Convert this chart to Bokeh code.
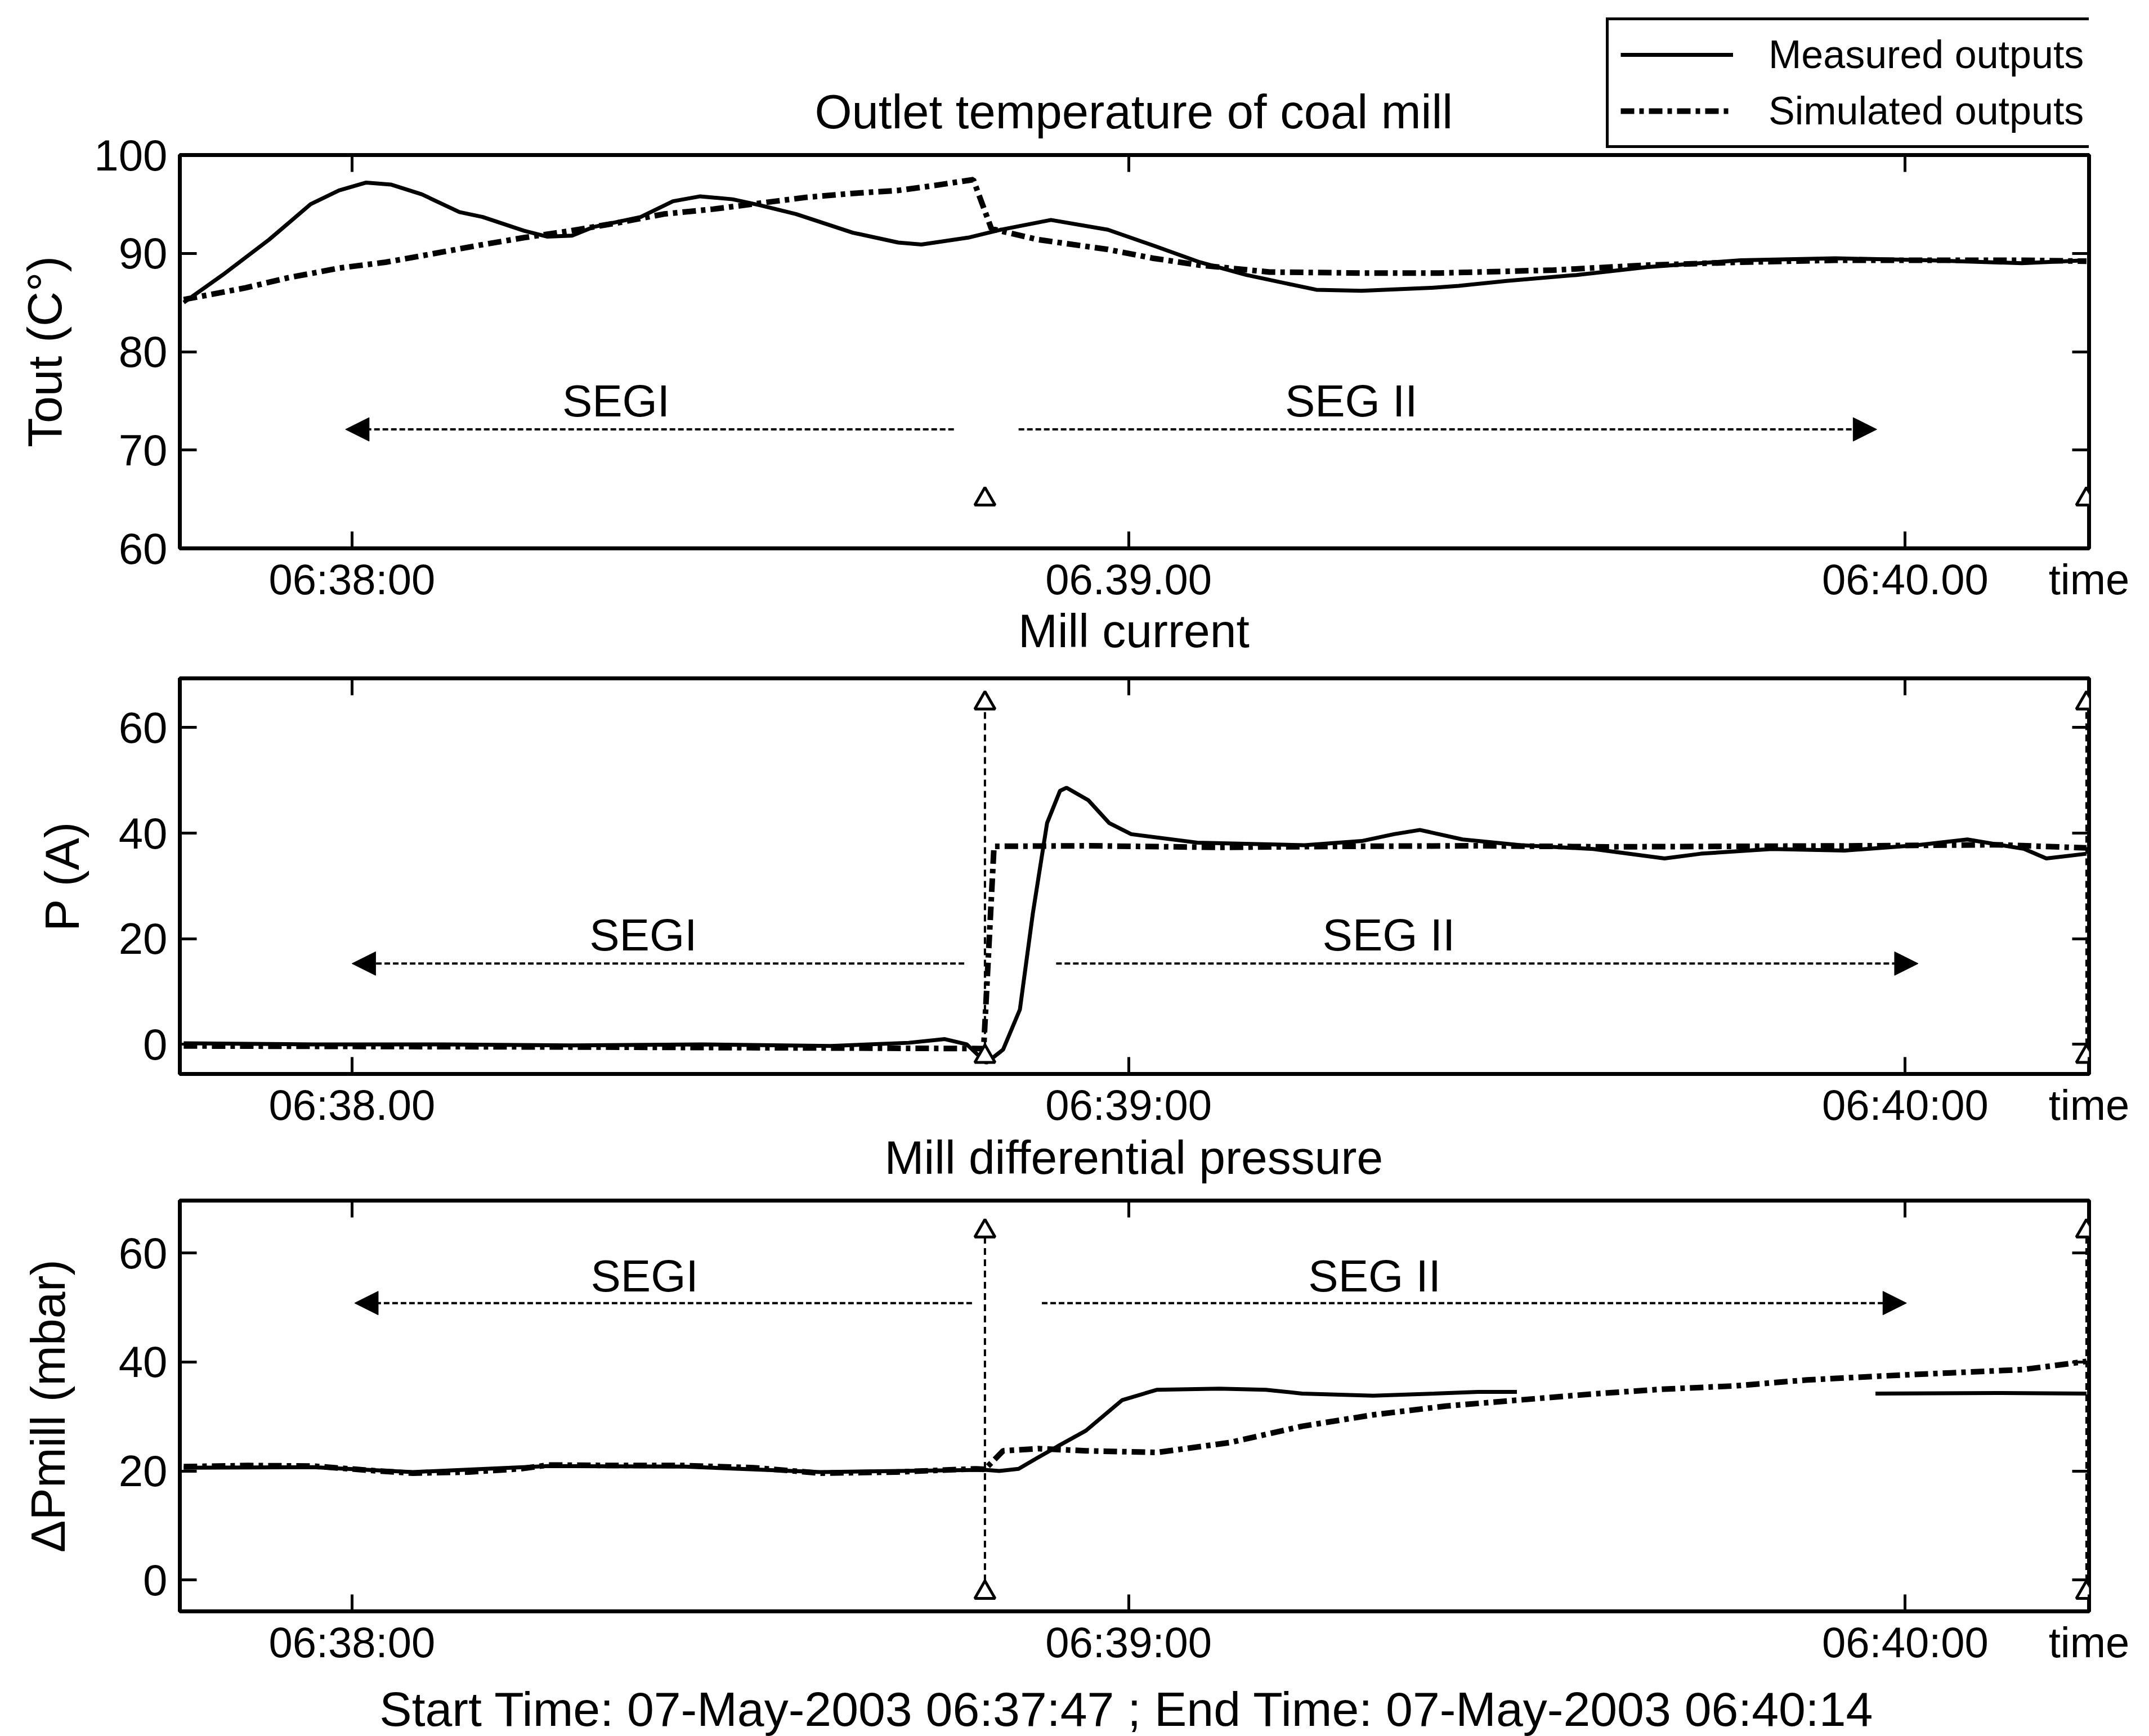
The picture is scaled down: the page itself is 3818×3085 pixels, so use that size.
from bokeh.plotting import figure
from bokeh.layouts import column
from bokeh.models import (FixedTicker, LinearAxis, Range1d, Label, Legend, LegendItem,
                          Arrow, NormalHead)
from bokeh.embed import file_html
from bokeh.resources import INLINE

FONT = "Liberation Sans"
NAN = float("nan")

# ---------------- data (time in seconds after 06:37:47) ----------------
T_END = 147.2
X_TICKS = [13, 73, 133, T_END]
X_LABELS_1 = ["06:38:00", "06.39.00", "06:40.00", "time"]
X_LABELS_2 = ["06:38.00", "06:39:00", "06:40:00", "time"]
X_LABELS_3 = ["06:38:00", "06:39:00", "06:40:00", "time"]

# Outlet temperature of coal mill
tout_meas_t = [0, 3, 6.6, 9.8, 12, 14.1, 16, 18.4, 21.3, 23.1, 26.3, 28.1, 30, 31.7, 35.3, 37.8,
               39.9, 42.4, 44.5, 47.3, 51.7, 55.2, 57, 60.6, 63.1, 67, 71.4, 74.9, 78.5, 82.1,
               87.5, 91, 96.4, 98.5, 102.2, 107.6, 113, 120.3, 127.6, 134.8, 142, 147]
tout_meas_y = [85.0, 87.8, 91.4, 95.0, 96.4, 97.2, 97.0, 96.0, 94.2, 93.7, 92.3, 91.7, 91.8, 92.7,
               93.7, 95.3, 95.8, 95.5, 94.9, 94.0, 92.1, 91.1, 90.9, 91.6, 92.4, 93.4, 92.4, 90.8,
               89.1, 87.8, 86.3, 86.2, 86.5, 86.7, 87.2, 87.8, 88.6, 89.3, 89.5, 89.3, 89.0, 89.3]
tout_sim_t = [0, 4.8, 8, 12, 15.6, 19, 22.7, 26.3, 29.9, 33.5, 37.1, 40.9, 44.5, 48.1, 51.7, 55.2,
              58, 61.0, 62.4, 66, 71.4, 74.9, 78.5, 83.9, 91.1, 97, 105.8, 113, 120.3, 127.6,
              134.8, 142, 147]
tout_sim_y = [85.3, 86.5, 87.5, 88.5, 89.1, 89.9, 90.8, 91.6, 92.3, 93.1, 94.0, 94.5, 95.1, 95.7,
              96.1, 96.4, 96.9, 97.5, 92.5, 91.4, 90.4, 89.5, 88.8, 88.1, 88.0, 88.0, 88.3, 88.8,
              89.1, 89.3, 89.3, 89.3, 89.2]

# Mill current
cur_meas_t = [0, 10, 20, 30, 40, 50, 56, 58.8, 60.5, 62.0, 63.3, 64.6, 65.6, 66.7, 67.7, 68.2,
              69.9, 71.5, 73.2, 78.3, 86.6, 91.0, 93.5, 95.5, 98.8, 103.3, 108.9, 114.4, 117.2,
              122.7, 128.3, 133.9, 137.8, 142.2, 143.9, 147]
cur_meas_y = [0.2, 0.0, 0.0, -0.2, 0.0, -0.3, 0.3, 1.0, 0.0, -3.5, -1.0, 6.6, 24.8, 41.9, 48.0,
              48.6, 46.2, 41.9, 39.8, 38.2, 37.7, 38.5, 39.8, 40.6, 38.8, 37.7, 37.0, 35.2, 36.1,
              37.0, 36.7, 37.7, 38.8, 37.0, 35.2, 36.1]
cur_sim_t = [0, 30, 61.8, 62.6, 70, 80, 90, 100, 110, 120, 130, 140, 147]
cur_sim_y = [-0.3, -0.5, -0.8, 37.5, 37.6, 37.3, 37.5, 37.6, 37.4, 37.5, 37.6, 37.8, 37.2]

# Mill differential pressure
dp_meas_t = [0, 10, 17.7, 28.2, 38.7, 49.2, 61.9, 63, 64.5, 65.8, 67.5, 69.7, 72.5, 75.2, 80,
             83.6, 86.4, 91.9, 96.6, 100, 103, 103.1, 130.7, 140, 147]
dp_meas_y = [20.6, 20.7, 19.8, 20.9, 20.8, 19.8, 20.2, 20.0, 20.4, 22.2, 24.5, 27.4, 33.0, 34.9,
             35.1, 34.9, 34.2, 33.8, 34.2, 34.5, 34.5, NAN, 34.2, 34.3, 34.2]
dp_sim_t = [0, 5, 10, 15, 17.7, 22, 26, 28.2, 33, 38.7, 44, 49.2, 55, 61.2, 61.9, 63.3, 66,
            69.7, 75.2, 80.8, 86.4, 91.9, 97.5, 103.1, 108.7, 114.2, 119.8, 125.4, 131.0,
            136.5, 142.1, 147]
dp_sim_y = [20.8, 21.0, 20.9, 20.0, 19.6, 19.8, 20.4, 21.1, 21.0, 21.0, 20.6, 19.6, 19.8, 20.4,
            20.3, 23.7, 24.1, 23.7, 23.4, 25.2, 28.2, 30.3, 31.9, 33.0, 34.1, 35.0, 35.6, 36.7,
            37.4, 38.0, 38.6, 40.1]

# segment boundaries (time) and marker levels per panel
SEG_T = [61.9, 147]
SEG_MARK_1 = [65, 65]
SEG_TOP_2, SEG_BOT_2 = [64.6, 64.6], [-2.3, -2.3]
SEG_TOP_3, SEG_BOT_3 = [64.0, 64.0], [-2.3, -2.3]

# SEG arrows: (left head t, left end t, right start t, right head t, level)
SEG_ARROW_1 = (12.5, 59.5, 64.5, 130.8, 72.1)
SEG_ARROW_2 = (13.0, 60.3, 67.4, 134.0, 15.3)
SEG_ARROW_3 = (13.2, 60.9, 66.3, 133.1, 50.8)
SEG_TEXT_1 = (33.4, 90.2, 75.0)
SEG_TEXT_2 = (35.5, 93.1, 20.7)
SEG_TEXT_3 = (35.6, 92.0, 55.8)

TITLE_1 = "Outlet temperature of coal mill"
TITLE_2 = "Mill current"
TITLE_3 = "Mill differential pressure"
FOOTER = "Start Time: 07-May-2003 06:37:47 ;  End Time: 07-May-2003 06:40:14"
LEGEND_LABELS = ["Measured outputs", "Simulated outputs"]

MEAS_STYLE = dict(line_color="black", line_width=7)
SIM_STYLE = dict(line_color="black", line_width=10, line_dash="24 9 8 9")


def make_fig(height, left, right, top, bottom, yr, yticks, xlabels, ylabel, lab_standoff):
    p = figure(width=3818, height=height, x_range=Range1d(-0.3, T_END), y_range=Range1d(*yr),
               output_backend="svg", toolbar_location=None, title=None,
               min_border_left=left, min_border_right=right,
               min_border_top=top, min_border_bottom=bottom)
    p.grid.visible = False
    p.background_fill_color = "white"
    p.border_fill_color = "white"
    p.outline_line_color = "black"
    p.outline_line_width = 7
    for ax in (p.xaxis[0], p.yaxis[0]):
        ax.axis_line_color = None
        ax.minor_tick_line_color = None
        ax.major_tick_in = 30
        ax.major_tick_out = 0
        ax.major_tick_line_width = 5
        ax.major_label_text_font = FONT
        ax.major_label_text_color = "black"
    p.xaxis.ticker = FixedTicker(ticks=X_TICKS)
    p.xaxis.major_label_overrides = dict(zip(X_TICKS, xlabels))
    p.xaxis.major_label_text_font_size = "76px"
    p.xaxis.major_label_standoff = 12
    p.yaxis.ticker = FixedTicker(ticks=yticks)
    p.yaxis.major_label_text_font_size = "78px"
    p.yaxis.major_label_standoff = 22
    p.yaxis.axis_label = ylabel
    p.yaxis.axis_label_text_font = FONT
    p.yaxis.axis_label_text_font_size = "86px"
    p.yaxis.axis_label_text_font_style = "normal"
    p.yaxis.axis_label_text_color = "black"
    p.yaxis.axis_label_standoff = lab_standoff
    top_ax = LinearAxis(ticker=FixedTicker(ticks=X_TICKS),
                        major_label_overrides={t: "" for t in X_TICKS})
    right_ax = LinearAxis(ticker=FixedTicker(ticks=yticks),
                          major_label_overrides={t: "" for t in yticks})
    for ax in (top_ax, right_ax):
        ax.axis_line_color = None
        ax.minor_tick_line_color = None
        ax.major_tick_in = 30
        ax.major_tick_out = 0
        ax.major_tick_line_width = 5
        ax.major_label_text_font_size = "1px"
        ax.major_label_standoff = 0
    p.add_layout(top_ax, "above")
    p.add_layout(right_ax, "right")
    return p


def text_strip(height, left, right, text, ty, size):
    """A strip without axes that carries one centred text line (titles, footer)."""
    f = figure(width=3818, height=height, x_range=Range1d(-0.3, T_END), y_range=Range1d(0, 1),
               output_backend="svg", toolbar_location=None, title=None,
               x_axis_location=None, y_axis_location=None,
               min_border_left=left, min_border_right=right, min_border_top=0,
               min_border_bottom=0)
    f.grid.visible = False
    f.outline_line_color = None
    f.add_layout(Label(x=73.4, y=ty, text=text, text_font=FONT, text_font_size=size,
                       text_align="center", text_baseline="middle", text_color="black"))
    return f


def add_series(p, mt, my, st, sy):
    rm = p.line(mt, my, **MEAS_STYLE)
    rs = p.line(st, sy, **SIM_STYLE)
    return rm, rs


def add_seg(p, arrow, text, ybot=None, ytop=None, marks=None):
    lh, le, rs, rh, lvl = arrow
    for xs, xe in ((le, lh), (rs, rh)):
        p.add_layout(Arrow(x_start=xs, y_start=lvl, x_end=xe, y_end=lvl, line_width=4,
                           line_dash="10 5",
                           end=NormalHead(size=42, fill_color="black", line_color="black")))
    t1, t2, ty = text
    for tx, s in ((t1, "SEGI"), (t2, "SEG II")):
        p.add_layout(Label(x=tx, y=ty, text=s, text_font=FONT, text_font_size="80px",
                           text_align="center", text_baseline="middle", text_color="black"))
    tri = dict(marker="triangle", size=36, fill_color="white", line_color="black",
               line_width=5)
    if ybot is not None:
        p.segment(x0=SEG_T, y0=ybot, x1=SEG_T, y1=ytop, line_color="black", line_width=4,
                  line_dash="12 8")
        p.scatter(SEG_T, ytop, **tri)
        p.scatter(SEG_T, ybot, **tri)
    if marks is not None:
        p.scatter(SEG_T, marks, **tri)


# ---------------- header: title of panel 1 and legend ----------------
head = text_strip(268, 303, 107, TITLE_1, 0.261, "85px")
# legend proxies (same series, outside this strip's visible range)
lm = head.line(tout_meas_t, tout_meas_y, **MEAS_STYLE)
ls = head.line(tout_sim_t, tout_sim_y, **SIM_STYLE)
legend = Legend(items=[LegendItem(label=LEGEND_LABELS[0], renderers=[lm]),
                       LegendItem(label=LEGEND_LABELS[1], renderers=[ls])],
                location=(2534, 5), label_text_font=FONT, label_text_font_size="70px",
                label_text_color="black",
                glyph_width=200, glyph_height=40, label_standoff=63, label_height=80,
                padding=21, spacing=20, margin=0, border_line_color="black",
                border_line_alpha=1.0, border_line_width=5,
                background_fill_color="white", background_fill_alpha=1)
head.add_layout(legend)

# ---------------- panel 1 (pulled up under the header's transparent edge) ----------------
p1 = make_fig(846, 303, 107, 47, 97, (60, 100), [60, 70, 80, 90, 100], X_LABELS_1,
              "Tout (C°)", 37)
p1.border_fill_color = None
p1.margin = (-40, 0, 0, 0)
add_series(p1, tout_meas_t, tout_meas_y, tout_sim_t, tout_sim_y)
add_seg(p1, SEG_ARROW_1, SEG_TEXT_1, marks=SEG_MARK_1)

# ---------------- panel 2 ----------------
t2 = text_strip(96, 312, 102, TITLE_2, 0.52, "84px")
p2 = make_fig(838, 312, 102, 35, 97, (-5.6, 69.3), [0, 20, 40, 60], X_LABELS_2,
              "P (A)", 50)
add_series(p2, cur_meas_t, cur_meas_y, cur_sim_t, cur_sim_y)
add_seg(p2, SEG_ARROW_2, SEG_TEXT_2, ybot=SEG_BOT_2, ytop=SEG_TOP_2)

# ---------------- panel 3 ----------------
t3 = text_strip(96, 319, 100, TITLE_3, 0.5, "84px")
p3 = make_fig(859, 319, 100, 29, 97, (-5.75, 69.6), [0, 20, 40, 60], X_LABELS_3,
              "ΔPmill (mbar)", 75)
add_series(p3, dp_meas_t, dp_meas_y, dp_sim_t, dp_sim_y)
add_seg(p3, SEG_ARROW_3, SEG_TEXT_3, ybot=SEG_BOT_3, ytop=SEG_TOP_3)
foot = text_strip(122, 319, 100, FOOTER, 0.40, "86px")

layout = column(head, p1, t2, p2, t3, p3, foot, spacing=0)
open("out.html", "w").write(file_html(layout, INLINE))
